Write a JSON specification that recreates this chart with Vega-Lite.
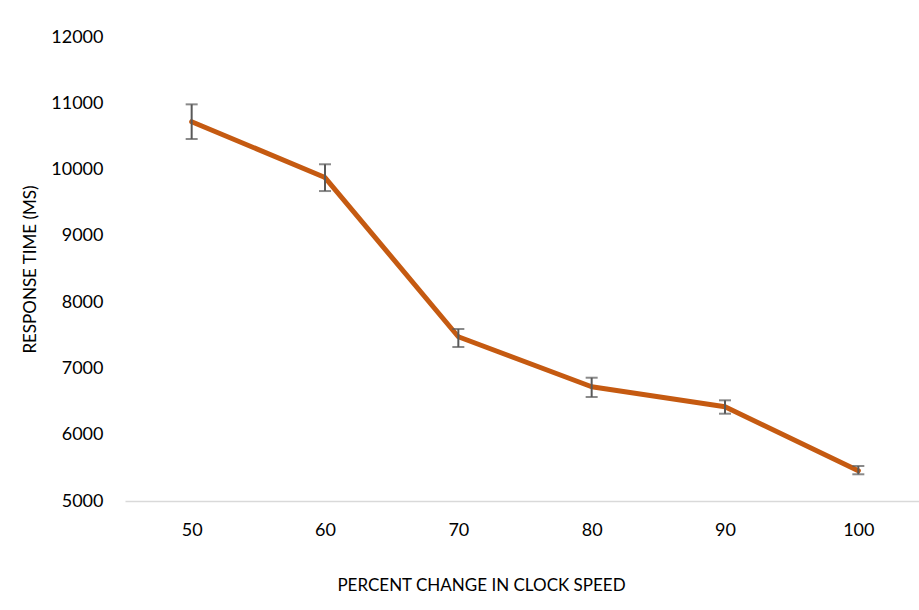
{
  "$schema": "https://vega.github.io/schema/vega-lite/v6.json",
  "autosize": {"type": "none"},
  "padding": {"left": 125, "top": 37, "right": 0, "bottom": 109},
  "width": 800,
  "height": 464,
  "background": "white",
  "config": {
    "view": {"stroke": null},
    "font": "Lato",
    "axis": {"labelFont": "Lato", "titleFont": "Lato", "labelColor": "#000000", "titleColor": "#000000", "titleFontWeight": "normal", "grid": false, "ticks": false, "domain": false}
  },
  "data": {"values": [
    {"speed": "50", "time": 10722, "lo": 10461, "hi": 10984},
    {"speed": "60", "time": 9880, "lo": 9676, "hi": 10080},
    {"speed": "70", "time": 7478, "lo": 7323, "hi": 7595},
    {"speed": "80", "time": 6724, "lo": 6569, "hi": 6860},
    {"speed": "90", "time": 6423, "lo": 6317, "hi": 6519},
    {"speed": "100", "time": 5457, "lo": 5403, "hi": 5528}
  ]},
  "encoding": {
    "x": {"field": "speed", "type": "ordinal", "sort": null,
      "scale": {"type": "point", "padding": 0.5},
      "axis": {"title": "PERCENT CHANGE IN CLOCK SPEED", "labelAngle": 0, "labelFontSize": 18, "labelPadding": 20,
        "titleFontSize": 17, "titleX": 356, "titleY": 84, "titleBaseline": "middle",
        "domain": true, "domainColor": "#D9D9D9", "domainWidth": 1.5}}
  },
  "layer": [
    {
      "mark": {"type": "line", "color": "#C55A11", "strokeWidth": 5, "strokeCap": "round", "strokeJoin": "round"},
      "encoding": {
        "y": {"field": "time", "type": "quantitative",
          "scale": {"domain": [5000, 12000], "nice": false, "zero": false},
          "axis": {"title": "RESPONSE TIME (MS)", "values": [5000, 6000, 7000, 8000, 9000, 10000, 11000, 12000], "format": "d",
            "labelFontSize": 18, "labelPadding": 22, "titleFontSize": 17, "titleX": -95, "titleBaseline": "middle"}}
      }
    },
    {
      "mark": {"type": "rule", "color": "#595959", "strokeWidth": 2},
      "encoding": {"y": {"field": "lo", "type": "quantitative"}, "y2": {"field": "hi"}}
    },
    {
      "mark": {"type": "tick", "color": "#595959", "thickness": 2, "size": 12},
      "encoding": {"y": {"field": "lo", "type": "quantitative"}}
    },
    {
      "mark": {"type": "tick", "color": "#595959", "thickness": 2, "size": 12},
      "encoding": {"y": {"field": "hi", "type": "quantitative"}}
    }
  ]
}
